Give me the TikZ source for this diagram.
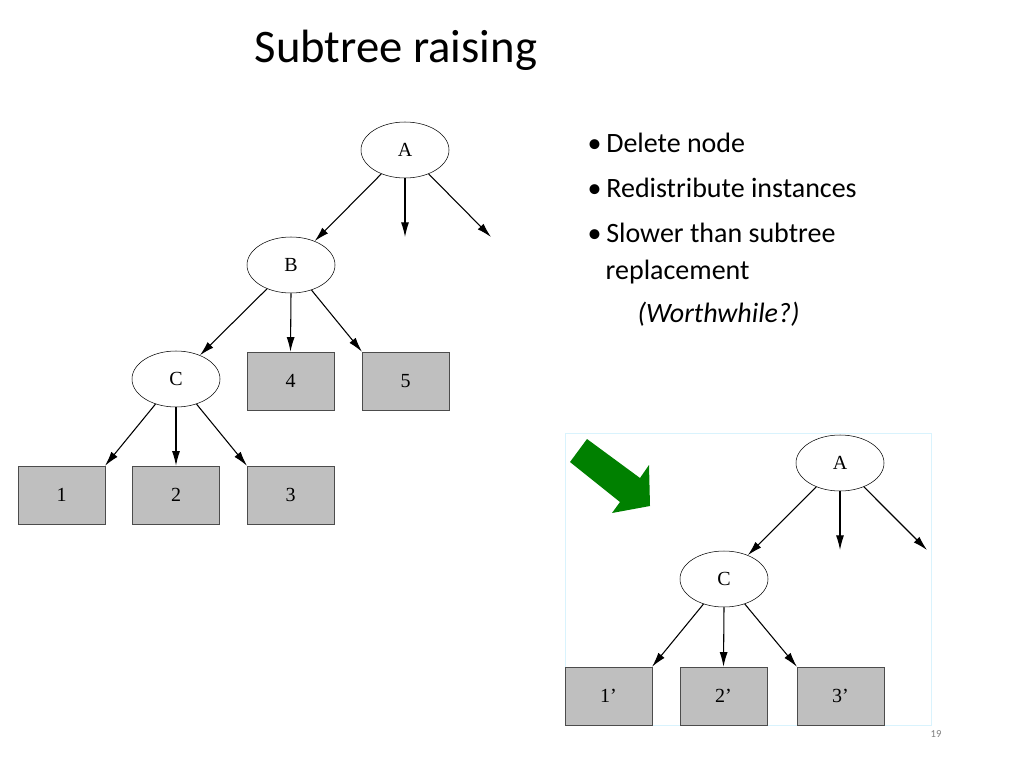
\documentclass[tikz,border=0pt]{standalone}
\usepackage{fontspec}
\setmainfont{Carlito}
\newfontfamily\treefont{Liberation Serif}
\begin{document}
\begin{tikzpicture}[x=0.75pt,y=-0.75pt,
  ell/.style={draw,ellipse,minimum width=66pt,minimum height=42pt,inner sep=0pt,font=\treefont\fontsize{15}{15}\selectfont},
  leaf/.style={draw=black!70,fill=black!25,minimum width=65pt,minimum height=43.5pt,inner sep=0pt,font=\treefont\fontsize{15}{15}\selectfont},
  edge/.style={draw,thick,-{Latex[length=11pt,width=6pt]}},
  bul/.style={anchor=base west,font=\fontsize{21}{21}\selectfont}]
\useasboundingbox (0,0) rectangle (1024,768);
\usetikzlibrary{shapes.geometric,arrows.meta}
\node[anchor=base west,font=\fontsize{35}{35}\selectfont] (title) at (250,62) {Subtree raising};
% left tree
\node[ell] (A) at (405,150) {A};
\node[ell] (B) at (291,265) {B};
\node[ell] (C) at (176,379) {C};
\node[leaf] (n4) at (290.5,381) {4};
\node[leaf] (n5) at (405.5,381) {5};
\node[leaf] (n1) at (61.5,495) {1};
\node[leaf] (n2) at (176,495) {2};
\node[leaf] (n3) at (290.5,495) {3};
\coordinate (a2) at (405,237);
\coordinate (a3) at (491,237);
\draw[edge] (A) -- (B);
\draw[edge] (A.south) -- (a2);
\draw[edge] (A) -- (a3);
\draw[edge] (B) -- (C);
\draw[edge] (B.south) -- (n4.north);
\draw[edge] (B) -- (n5.north west);
\draw[edge] (C) -- (n1.north east);
\draw[edge] (C.south) -- (n2.north);
\draw[edge] (C) -- (n3.north west);
% bullets
\node[bul] (b1) at (583,152) {•\,Delete node};
\node[bul] (b2) at (583,197) {•\,Redistribute instances};
\node[bul] (b3) at (583,242) {•\,Slower than subtree};
\node[bul] (b4) at (601,279) {replacement};
\node[bul] (b5) at (633,322) {\itshape (Worthwhile?)};
% right picture
\draw[cyan!15] (565,433) rectangle (931,725);
\fill[green!50!black] (587,439) -- (640,478) -- (649,465) -- (650,506) -- (612,513) -- (620,502) -- (570,462) -- cycle;
\node[ell] (A2) at (840,463) {A};
\node[ell] (C2) at (724,579) {C};
\node[leaf] (m1) at (608.5,696) {1’};
\node[leaf] (m2) at (723.5,696) {2’};
\node[leaf] (m3) at (840.5,696) {3’};
\coordinate (d2) at (840,550);
\coordinate (d3) at (927,550);
\draw[edge] (A2) -- (C2);
\draw[edge] (A2.south) -- (d2);
\draw[edge] (A2) -- (d3);
\draw[edge] (C2) -- (m1.north east);
\draw[edge] (C2.south) -- (m2.north);
\draw[edge] (C2) -- (m3.north west);
\node[anchor=base,font=\fontsize{8}{8}\selectfont,text=black!50] (pg) at (936,737) {19};
\end{tikzpicture}
\end{document}
